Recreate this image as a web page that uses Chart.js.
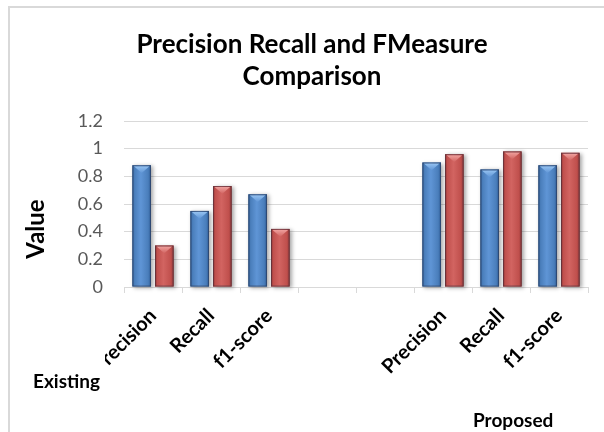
<!DOCTYPE html>
<html>
<head>
<meta charset="utf-8">
<title>Precision Recall and FMeasure Comparison</title>
<script src="https://cdn.jsdelivr.net/npm/chart.js@4/dist/chart.umd.min.js"></script>
<style>
  html, body { margin: 0; padding: 0; background: #ffffff; }
  #wrap { position: relative; width: 604px; height: 432px; overflow: hidden; }
  #frame {
    position: absolute; left: 8px; top: 6px; width: 620px; height: 460px;
    border-left: 2px solid #d9d9d9; border-top: 2px solid #d9d9d9;
    box-sizing: border-box; pointer-events: none;
  }
  canvas { position: absolute; left: 0; top: 0; }
</style>
</head>
<body>
<div id="wrap">
  <canvas id="chart" width="604" height="432"></canvas>
  <div id="frame"></div>
</div>
<script>
// Categories along the x axis (two empty slots separate the groups)
const categories = ['Precision', 'Recall', 'f1-score', '', '', 'Precision', 'Recall', 'f1-score'];
// Group captions under the category labels
const groupLabels = ['Existing', 'Proposed'];
// Two measured series per category
const seriesBlue = [0.88, 0.55, 0.67, null, null, 0.90, 0.85, 0.88];
const seriesRed  = [0.30, 0.73, 0.42, null, null, 0.96, 0.98, 0.97];
// Value axis ticks
const yTicks = [0, 0.2, 0.4, 0.6, 0.8, 1, 1.2];

const FONT = 'Lato, "Open Sans", "Liberation Sans", sans-serif';

const palette = {
  blue: { base: '#4a7ebb', edge: '#2f5e98', mid: '#5f95d6', cap: '#9cc8f4', capEdge: '#5f95d6' },
  red:  { base: '#c0504d', edge: '#9a3a38', mid: '#d26461', cap: '#f3a9a6', capEdge: '#d26461' }
};

// Paints the bevelled look on each bar: side shading, top chevron, soft shadow
const bevelBars = {
  id: 'bevelBars',
  afterDatasetDraw(chart, args) {
    const ctx = chart.ctx;
    const meta = args.meta;
    const pal = meta.index === 0 ? palette.blue : palette.red;
    meta.data.forEach(bar => {
      if (bar.skip || bar.y == null || isNaN(bar.y)) return;
      const w = bar.width;
      const left = bar.x - w / 2;
      const top = bar.y;
      const h = bar.base - bar.y;
      if (h <= 0) return;
      ctx.save();
      // soft shadow to the right
      ctx.shadowColor = 'rgba(0,0,0,0.35)';
      ctx.shadowBlur = 4;
      ctx.shadowOffsetX = 2;
      ctx.shadowOffsetY = 1;
      const g = ctx.createLinearGradient(left, 0, left + w, 0);
      g.addColorStop(0, pal.edge);
      g.addColorStop(0.12, pal.base);
      g.addColorStop(0.45, pal.mid);
      g.addColorStop(0.85, pal.base);
      g.addColorStop(1, pal.edge);
      ctx.fillStyle = g;
      ctx.fillRect(left, top, w, h);
      ctx.restore();

      ctx.save();
      // top chevron
      const capH = Math.min(w * 0.42, h);
      const cg = ctx.createLinearGradient(0, top, 0, top + capH);
      cg.addColorStop(0, pal.cap);
      cg.addColorStop(1, pal.capEdge);
      ctx.fillStyle = cg;
      ctx.beginPath();
      ctx.moveTo(left + 1.5, top + 1);
      ctx.lineTo(left + w - 1.5, top + 1);
      ctx.lineTo(left + w / 2, top + capH);
      ctx.closePath();
      ctx.fill();
      // thin dark outline
      ctx.strokeStyle = 'rgba(40,40,60,0.45)';
      ctx.lineWidth = 1;
      ctx.strokeRect(left + 0.5, top + 0.5, w - 1, h - 1);
      ctx.restore();
    });
  }
};

// Title, axis caption, group captions; trims the first category label at the left edge
const chartText = {
  id: 'chartText',
  afterDraw(chart) {
    const ctx = chart.ctx;
    ctx.save();
    // trim the leading category label like the plot frame does
    ctx.fillStyle = '#ffffff';
    ctx.fillRect(10, 297, 95, 95);

    ctx.fillStyle = '#000000';
    ctx.textAlign = 'center';
    ctx.textBaseline = 'middle';
    ctx.font = 'bold 26px ' + FONT;
    ctx.fillText('Precision Recall and FMeasure', 312, 45);
    ctx.fillText('Comparison', 312, 77);

    ctx.save();
    ctx.translate(36, 229);
    ctx.rotate(-Math.PI / 2);
    ctx.font = 'bold 24px ' + FONT;
    ctx.fillText('Value', 0, 0);
    ctx.restore();

    ctx.font = 'bold 19px ' + FONT;
    ctx.textAlign = 'left';
    ctx.fillText(groupLabels[0], 33, 382);
    ctx.fillText(groupLabels[1], 473, 421);
    ctx.restore();
  }
};

new Chart(document.getElementById('chart'), {
  type: 'bar',
  data: {
    labels: categories,
    datasets: [
      { label: 'Series 1', data: seriesBlue, backgroundColor: palette.blue.base, borderWidth: 0 },
      { label: 'Series 2', data: seriesRed, backgroundColor: palette.red.base, borderWidth: 0 }
    ]
  },
  options: {
    responsive: false,
    animation: false,
    devicePixelRatio: 1,
    layout: { padding: { left: 0, right: 16, top: 121, bottom: 0 } },
    datasets: { bar: { categoryPercentage: 0.78, barPercentage: 0.82 } },
    plugins: {
      legend: { display: false },
      title: { display: false },
      tooltip: { enabled: false }
    },
    scales: {
      x: {
        offset: true,
        afterFit(scale) { scale.height = 145; },
        grid: {
          offset: true,
          drawOnChartArea: false,
          drawTicks: true,
          tickLength: 6,
          color: '#d9d9d9',
          lineWidth: 1
        },
        border: { display: true, color: '#d9d9d9', width: 1 },
        ticks: {
          autoSkip: false,
          minRotation: 45,
          maxRotation: 45,
          padding: 11,
          color: '#000000',
          font: { family: FONT, size: 20, weight: 'bold' }
        }
      },
      y: {
        min: yTicks[0],
        max: yTicks[yTicks.length - 1],
        afterFit(scale) { scale.width = 124; },
        afterBuildTicks(scale) { scale.ticks = yTicks.map(v => ({ value: v })); },
        grid: { color: '#d9d9d9', lineWidth: 1, drawTicks: false },
        border: { display: false },
        ticks: {
          padding: 21,
          color: '#595959',
          font: { family: FONT, size: 18 },
          callback: v => String(+Number(v).toFixed(1))
        }
      }
    }
  },
  plugins: [bevelBars, chartText]
});
</script>
</body>
</html>
